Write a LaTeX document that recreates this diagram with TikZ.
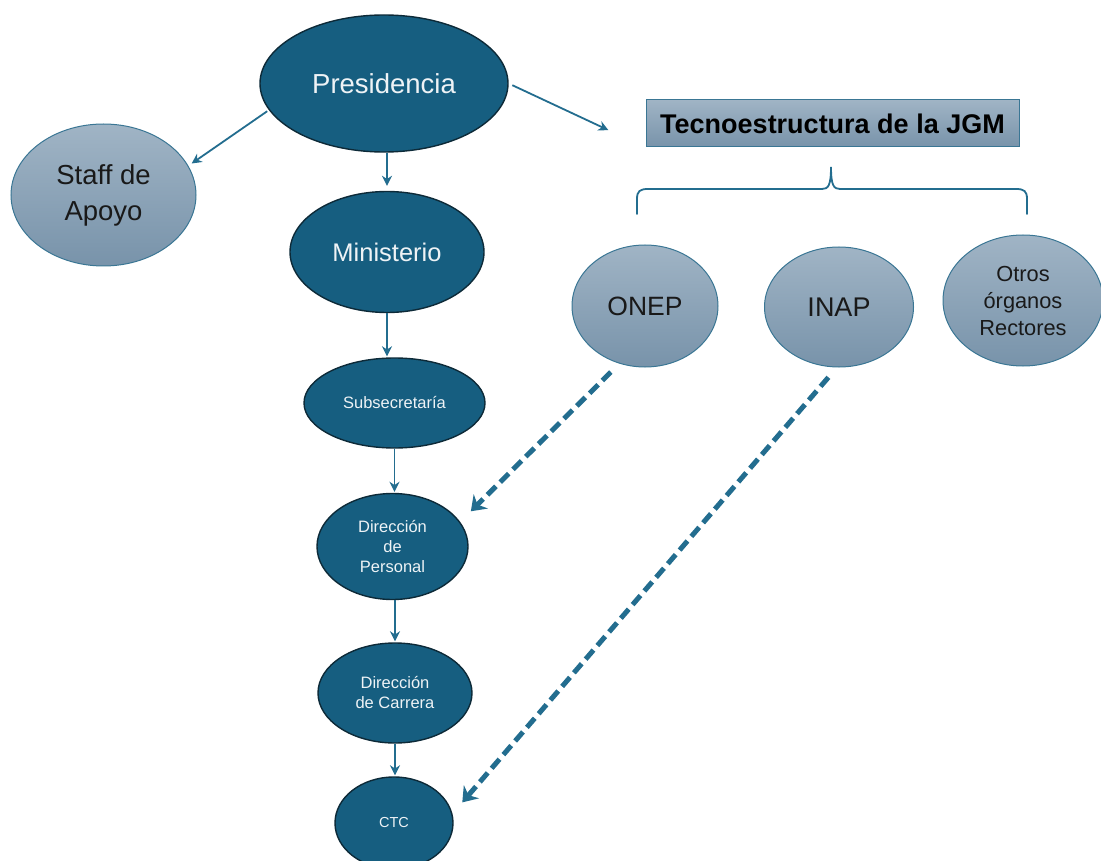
\documentclass[tikz,border=0pt]{standalone}
\usepackage{fontspec}
\setmainfont{Liberation Sans}
\usetikzlibrary{shapes.geometric,arrows.meta}
\definecolor{darkfill}{HTML}{165E80}
\definecolor{darkline}{HTML}{0D2A38}
\definecolor{lighttop}{HTML}{A0B4C5}
\definecolor{lightbot}{HTML}{7893AA}
\definecolor{lightline}{HTML}{3A7694}
\definecolor{arrowc}{HTML}{236D8F}
\definecolor{txtlight}{HTML}{EEF3F6}
\begin{document}
\begin{tikzpicture}[x=1pt,y=-1pt,
 dark/.style={ellipse, fill=darkfill, draw=darkline, line width=1.4pt, text=txtlight, inner sep=0pt, align=center},
 light/.style={ellipse, top color=lighttop, bottom color=lightbot, draw=lightline, line width=1pt, text=black!90, inner sep=0pt, align=center},
 arr/.style={draw=arrowc, line width=1.8pt, -{Stealth[length=10pt,width=10pt]}},
 darr/.style={draw=arrowc, line width=5pt, dash pattern=on 12pt off 6pt, -{Stealth[length=14pt,width=20pt]}},
 bracel/.style={draw=arrowc, line width=1.8pt, line cap=round}
 ]
\useasboundingbox (0,0) rectangle (1101,861);

% dark hierarchy
\node[dark, minimum width=248pt, minimum height=137pt, font=\fontsize{27.5}{30}\selectfont] (pres) at (384,83.5) {Presidencia};
\node[dark, minimum width=194pt, minimum height=121pt, font=\fontsize{25.5}{28}\selectfont] (min) at (387,252) {Ministerio};
\node[dark, minimum width=181pt, minimum height=90pt, font=\fontsize{16.5}{20}\selectfont] (sub) at (394.5,403) {Subsecretaría};
\node[dark, minimum width=151pt, minimum height=106pt, font=\fontsize{16.5}{20}\selectfont] (dp) at (392.5,546.5) {Dirección\\de\\Personal};
\node[dark, minimum width=154pt, minimum height=100pt, font=\fontsize{16.5}{20}\selectfont] (dc) at (395,693) {Dirección\\de Carrera};
\node[dark, minimum width=118pt, minimum height=92pt, font=\fontsize{14.5}{18}\selectfont] (ctc) at (394,823) {CTC};

% light nodes
\node[light, minimum width=185pt, minimum height=142pt, font=\fontsize{27.5}{36}\selectfont] (staff) at (103.5,195) {Staff de\\Apoyo};
\node[light, minimum width=146pt, minimum height=122pt, font=\fontsize{26.5}{30}\selectfont] (onep) at (645,306) {ONEP};
\node[light, minimum width=149pt, minimum height=120pt, font=\fontsize{27}{30}\selectfont] (inap) at (839,307) {INAP};
\node[light, minimum width=160pt, minimum height=131pt, font=\fontsize{21.8}{27}\selectfont] (otros) at (1023,300.5) {Otros\\órganos\\Rectores};

\node[rectangle, top color=lighttop, bottom color=lightbot, draw=lightline, line width=1pt, minimum width=373pt, minimum height=47pt, inner sep=0pt, font=\bfseries\fontsize{27}{30}\selectfont, text=black] (tecno) at (832.5,123.5) {Tecnoestructura de la JGM};

% brace
\draw[bracel] (637,214) -- (637,199) .. controls (637,191) and (640,189) .. (648,189) -- (822,189) .. controls (828,189) and (831,186) .. (831,167)
  .. controls (831,186) and (834,189) .. (840,189) -- (1016,189) .. controls (1024,189) and (1027,191) .. (1027,199) -- (1027,214);

% arrows
\draw[arr, shorten <=2pt, shorten >=4pt] (pres.193) -- (staff.19);
\draw[arr, shorten <=4pt, shorten >=41pt] (pres.east) -- (tecno.south west);
\draw[arr, shorten >=5pt] (min.north |- pres.south) -- (min.north);
\draw[arr, shorten >=1pt] (min.south) -- (min.south |- sub.north);
\draw[arr, shorten >=1pt] (sub.south) -- (sub.south |- dp.north);
\draw[arr, shorten >=1pt] (dc.north |- dp.south) -- (dc.north);
\draw[arr, shorten >=1pt] (dc.south) -- (dc.south |- ctc.north);

\draw[darr, shorten <=12pt, shorten >=15pt] (onep.246) -- (dp.20);
\draw[darr, shorten <=13pt, shorten >=15pt] (inap.268) -- (ctc.9);
\end{tikzpicture}
\end{document}
